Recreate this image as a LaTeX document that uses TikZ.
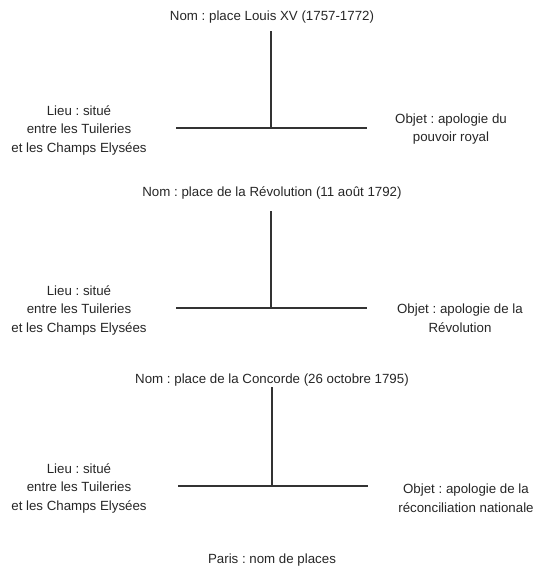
\documentclass[tikz,border=0pt]{standalone}
\usepackage{fontspec}
\setmainfont{Liberation Sans}
\frenchspacing
\begin{document}
\begin{tikzpicture}[x=1pt,y=-1pt,
  lbl/.style={inner sep=0pt, align=center, text=black!85,
    font=\fontsize{13.3}{18.5}\selectfont},
  rule/.style={draw=black!80, line width=1.3pt}]
\useasboundingbox (0,0) rectangle (536,571);

% --- place Louis XV ---
\node[lbl] (t1) at (272,17) {Nom : place Louis XV (1757-1772)};
\node[lbl] (lieu1) at (79,130) {Lieu : situé\\entre les Tuileries\\et les Champs Elysées};
\node[lbl] (obj1) at (451,129) {Objet : apologie du\\pouvoir royal};
\coordinate (top1) at (271,31);
\coordinate (j1) at (271,128);
\coordinate (a1) at (176,128);
\coordinate (b1) at (367,128);
\draw[rule] (top1) -- (j1);
\draw[rule] (a1) -- (b1);

% --- place de la Révolution ---
\node[lbl] (t2) at (272,193) {Nom : place de la Révolution (11 août 1792)};
\node[lbl] (lieu2) at (79,310) {Lieu : situé\\entre les Tuileries\\et les Champs Elysées};
\node[lbl] (obj2) at (460,318) {Objet : apologie de la\\Révolution};
\coordinate (top2) at (271,211);
\coordinate (j2) at (271,308);
\coordinate (a2) at (176,308);
\coordinate (b2) at (367,308);
\draw[rule] (top2) -- (j2);
\draw[rule] (a2) -- (b2);

% --- place de la Concorde ---
\node[lbl] (t3) at (272,380) {Nom : place de la Concorde (26 octobre 1795)};
\node[lbl] (lieu3) at (79,488) {Lieu : situé\\entre les Tuileries\\et les Champs Elysées};
\node[lbl] (obj3) at (466,498) {Objet : apologie de la\\réconciliation nationale};
\coordinate (top3) at (272,387);
\coordinate (j3) at (272,486);
\coordinate (a3) at (178,486);
\coordinate (b3) at (368,486);
\draw[rule] (top3) -- (j3);
\draw[rule] (a3) -- (b3);

\node[lbl] (paris) at (272,560) {Paris : nom de places};
\end{tikzpicture}
\end{document}
